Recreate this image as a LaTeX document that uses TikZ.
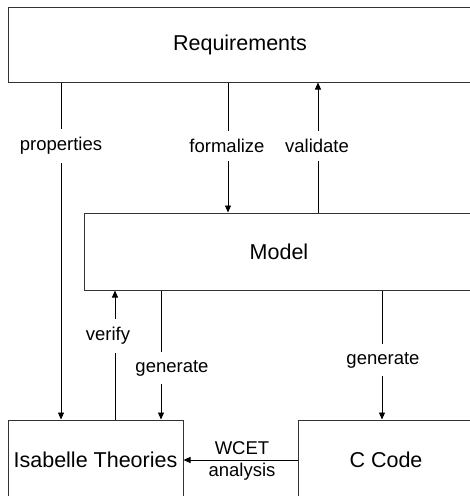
\documentclass[tikz,border=0pt]{standalone}
\usepackage{fontspec}
\setmainfont{Liberation Sans}
\usetikzlibrary{arrows.meta}
\begin{document}
\begin{tikzpicture}[x=1pt,y=1pt,
  box/.style={draw=black!80, line width=1pt, fill=white, rectangle, inner sep=0pt, font=\fontsize{21.5}{25}\selectfont},
  arr/.style={line width=0.9pt, -{Triangle[length=7pt,width=6pt]}},
  ln/.style={line width=0.9pt},
  lbl/.style={fill=white, inner xsep=2pt, inner ysep=8pt, font=\fontsize{18.5}{21}\selectfont},
  plain/.style={inner sep=0pt, align=center, font=\fontsize{18.5}{21.5}\selectfont}]
\useasboundingbox (0,0) rectangle (470,-496);
\clip (0,0) rectangle (470,-496);
\fill[white] (0,0) rectangle (470,-496);
% boxes
\node[box, minimum width=464, minimum height=75] (req) at (240,-44.5) {Requirements};
\node[box, minimum width=390, minimum height=77] (model) at (279,-251.5) {Model};
\node[box, minimum width=175, minimum height=80] (isa) at (95.5,-460) {Isabelle Theories};
\node[box, minimum width=176, minimum height=80] (code) at (386,-460) {C Code};
% x positions
\coordinate (xp) at (61,0);
\coordinate (xf) at (228,0);
\coordinate (xv) at (318,0);
\coordinate (xy) at (115,0);
\coordinate (xg) at (161,0);
\coordinate (xc) at (382,0);
% connectors
\draw[arr] (xp |- req.south) -- (xp |- isa.north);
\draw[arr] (xf |- req.south) -- (xf |- model.north);
\draw[arr] (xv |- model.north) -- (xv |- req.south);
\draw[arr] (xy |- isa.north) -- (xy |- model.south);
\draw[arr] (xg |- model.south) -- (xg |- isa.north);
\draw[arr] (xc |- model.south) -- (xc |- code.north);
\draw[arr] (code.west) -- (isa.east);
% labels
\node[lbl] (lprop) at (61,-146) {properties};
\node[lbl] (lform) at (227,-146) {formalize};
\node[lbl] (lval) at (317,-146) {validate};
\node[lbl] (lver) at (108,-336) {verify};
\node[lbl] (lgen1) at (172,-368) {generate};
\node[lbl] (lgen2) at (383,-360) {generate};
\node[plain] (lwcet) at (242,-461) {WCET\\analysis};
\end{tikzpicture}
\end{document}
